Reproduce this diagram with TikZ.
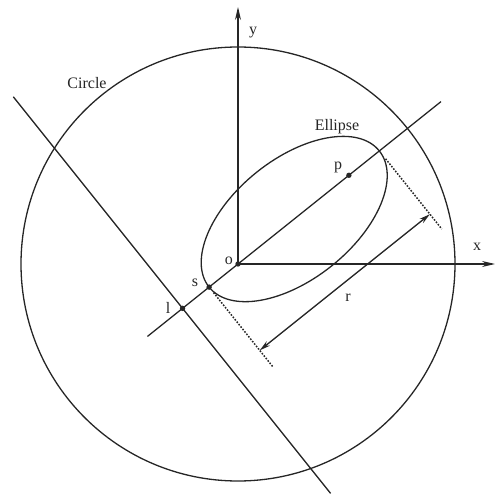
\documentclass[tikz,border=0pt]{standalone}
\usepackage{fontspec}
\setmainfont{Liberation Serif}
\usetikzlibrary{arrows.meta,calc}

\begin{document}
\begin{tikzpicture}[x=1pt,y=1pt,
  curve/.style={line width=1.3pt, draw=black!85},
  axis/.style={curve, -{Stealth[length=13pt,width=6pt]}},
  guide/.style={line width=1.5pt, draw=black!85, dash pattern=on 1.6pt off 1.5pt},
  dim/.style={curve, {Stealth[length=11pt,width=5.5pt]}-{Stealth[length=11pt,width=5.5pt]}},
  lbl/.style={font=\fontsize{16}{19}\selectfont, text=black!85, inner sep=1pt},
]
\useasboundingbox (-238,-239) rectangle (258,264);
% axes and circle about the origin
\coordinate (o) at (0,0);
\coordinate (xend) at (257,0);
\coordinate (yend) at (0,257);
\draw[curve] (o) circle[radius=217];
\draw[axis] (o) -- (xend);
\draw[axis] (o) -- (yend);
% frame along the main line
\begin{scope}[rotate=38.66]
  \coordinate (a0) at (-116,0);
  \coordinate (a1) at (260,0);
  \coordinate (s) at (-37,0);
  \coordinate (far) at (181,0);
  \coordinate (p) at (142,0);
  \coordinate (l) at (-71,0);
  \coordinate (b0) at (-71,271);
  \coordinate (b1) at (-71,-237);
  \coordinate (ctr) at (72,0);
  \coordinate (g0) at (-37,-7);
  \coordinate (g1) at (-37,-103);
  \coordinate (h0) at (181,-10);
  \coordinate (h1) at (181,-100);
  \coordinate (r0) at (-37,-81);
  \coordinate (r1) at (181,-81);
  \draw[curve] (ctr) ellipse[x radius=109, y radius=60];
\end{scope}
\draw[curve] (a0) -- (a1);
\draw[curve] (b0) -- (b1);
\draw[guide] (g0) -- (g1);
\draw[guide] (h0) -- (h1);
\draw[dim] (r0) -- (r1);
\foreach \pt in {o,s,p,l} \fill[black!85] (\pt) circle[radius=2.7];
% labels
\node[lbl] (ylbl) at (15,231) {y};
\node[lbl] (xlbl) at (239,17) {x};
\node[lbl] (circlbl) at (-151,181) {Circle};
\node[lbl] (elllbl) at (99,137) {Ellipse};
\node[lbl] (plbl) at (100,97) {p};
\node[lbl] (olbl) at (-9,3) {o};
\node[lbl] (slbl) at (-43,-19) {s};
\node[lbl] (llbl) at (-70,-44) {l};
\node[lbl] (rlbl) at (110,-34) {r};
\end{tikzpicture}
\end{document}
